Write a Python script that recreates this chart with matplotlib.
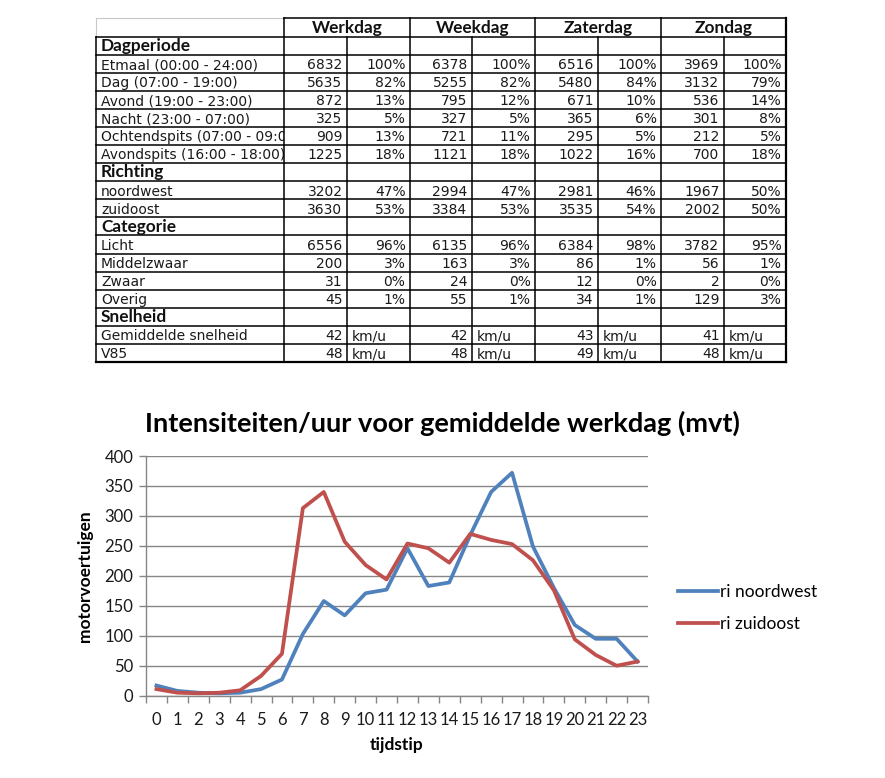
import numpy as np
import matplotlib.pyplot as plt
from matplotlib.patches import Rectangle

plt.rcParams['font.family'] = 'Lato'

# ---- tabel: telling per dagtype ----
dagen = ['Werkdag', 'Weekdag', 'Zaterdag', 'Zondag']

dagperiode = ['Etmaal (00:00 - 24:00)', 'Dag (07:00 - 19:00)', 'Avond (19:00 - 23:00)',
              'Nacht (23:00 - 07:00)', 'Ochtendspits (07:00 - 09:00)', 'Avondspits (16:00 - 18:00)']
richting = ['noordwest', 'zuidoost']
categorie = ['Licht', 'Middelzwaar', 'Zwaar', 'Overig']
snelheid = ['Gemiddelde snelheid', 'V85']

werkdag_aantal = [6832, 5635, 872, 325, 909, 1225, 3202, 3630, 6556, 200, 31, 45]
werkdag_pct = [100, 82, 13, 5, 13, 18, 47, 53, 96, 3, 0, 1]
weekdag_aantal = [6378, 5255, 795, 327, 721, 1121, 2994, 3384, 6135, 163, 24, 55]
weekdag_pct = [100, 82, 12, 5, 11, 18, 47, 53, 96, 3, 0, 1]
zaterdag_aantal = [6516, 5480, 671, 365, 295, 1022, 2981, 3535, 6384, 86, 12, 34]
zaterdag_pct = [100, 84, 10, 6, 5, 16, 46, 54, 98, 1, 0, 1]
zondag_aantal = [3969, 3132, 536, 301, 212, 700, 1967, 2002, 3782, 56, 2, 129]
zondag_pct = [100, 79, 14, 8, 5, 18, 50, 50, 95, 1, 0, 3]

gem_snelheid = [42, 42, 43, 41]
v85 = [48, 48, 49, 48]

# ---- grafiek: intensiteit per uur (werkdag) ----
uren = list(range(24))
noordwest = [17, 8, 5, 4, 5, 11, 27, 103, 158, 134, 171, 177, 246, 183, 189, 268,
             340, 372, 249, 180, 118, 95, 95, 57]
zuidoost = [11, 5, 4, 5, 9, 33, 70, 313, 340, 257, 218, 194, 254, 246, 222, 270,
            260, 253, 226, 176, 94, 68, 50, 57]

W, H = 885, 778
fig = plt.figure(figsize=(W / 100, H / 100), dpi=100)

# table drawn in pixel coordinates
tab = fig.add_axes([0, 0, 1, 1])
tab.set_xlim(0, W)
tab.set_ylim(H, 0)
tab.axis('off')

col_x = [96, 284, 347, 410, 472, 535, 598, 661, 724, 786]
top = 18.3
head_h = 18.4
row_h = 18.07
body_font = dict(family='DejaVu Sans', size=10, color='#1a1a1a')
bold_font = dict(family='Lato', size=12.4, weight='bold', color='#111111')

aantallen = [werkdag_aantal, weekdag_aantal, zaterdag_aantal, zondag_aantal]
procenten = [werkdag_pct, weekdag_pct, zaterdag_pct, zondag_pct]

rows = []
k = 0
for kop, labels in [('Dagperiode', dagperiode), ('Richting', richting), ('Categorie', categorie)]:
    rows.append(('kop', kop, None))
    for lab in labels:
        rows.append(('data', lab, k))
        k += 1
rows.append(('kop', 'Snelheid', None))
rows.append(('speed', snelheid[0], gem_snelheid))
rows.append(('speed', snelheid[1], v85))

y0 = top + head_h
bottom = y0 + len(rows) * row_h

# grid lines
lw = 1.1
tab.plot([col_x[0], col_x[1]], [top, top], color='#c8c8c8', lw=0.8)
tab.plot([col_x[0], col_x[0]], [top, y0], color='#c8c8c8', lw=0.8)
tab.plot([col_x[1], col_x[-1]], [top, top], color='black', lw=lw)
for r in range(len(rows) + 1):
    yy = y0 + r * row_h
    tab.plot([col_x[0], col_x[-1]], [yy, yy], color='black',
             lw=1.6 if r == len(rows) else lw)
tab.plot([col_x[0], col_x[0]], [y0, bottom], color='black', lw=lw)
for i, x in enumerate(col_x[1:], start=1):
    y_start = top if i % 2 == 1 else y0
    tab.plot([x, x], [y_start, bottom], color='black',
             lw=1.6 if i == len(col_x) - 1 else lw)

# white strip hides label text running past the first column
tab.add_patch(Rectangle((col_x[1], y0), 30, bottom - y0, facecolor='white',
                        edgecolor='none', zorder=1))

# header
for d, dag in enumerate(dagen):
    xc = (col_x[1 + 2 * d] + col_x[3 + 2 * d]) / 2
    tab.text(xc, y0 - 4, dag, ha='center', va='baseline', **bold_font)

# rows
for r, (kind, lab, val) in enumerate(rows):
    yb = y0 + (r + 1) * row_h - 3.8
    if kind == 'kop':
        tab.text(col_x[0] + 5, yb, lab, ha='left', va='baseline', **bold_font)
        continue
    tab.text(col_x[0] + 5, yb, lab, ha='left', va='baseline', zorder=0.5, **body_font)
    for d in range(4):
        xa = col_x[2 + 2 * d]
        xb = col_x[3 + 2 * d]
        if kind == 'data':
            tab.text(xa - 4.5, yb, str(aantallen[d][val]), ha='right', va='baseline', **body_font)
            tab.text(xb - 4.5, yb, f'{procenten[d][val]}%', ha='right', va='baseline', **body_font)
        else:
            tab.text(xa - 4.5, yb, str(val[d]), ha='right', va='baseline', **body_font)
            tab.text(xa + 4.5, yb, 'km/u', ha='left', va='baseline', **body_font)

# ---- chart ----
grey = '#868686'
ax = fig.add_axes([146 / W, 1 - 695.7 / H, 502 / W, 239.7 / H])
ax.plot(uren, noordwest, color='#4F81BD', lw=2.7, label='ri noordwest')
ax.plot(uren, zuidoost, color='#C0504D', lw=2.7, label='ri zuidoost')

ax.set_xlim(-0.5, 23.5)
ax.set_ylim(0, 400)
ax.set_yticks(np.arange(0, 401, 50))
ax.set_xticks(uren)
ax.set_xticks(np.arange(-0.5, 24, 1), minor=True)
ax.tick_params(axis='x', which='major', length=0, pad=12, labelsize=12, labelcolor='#1a1a1a')
ax.tick_params(axis='x', which='minor', length=5, width=1, color=grey)
ax.tick_params(axis='y', length=5, width=1, color=grey, pad=4, labelsize=12, labelcolor='#1a1a1a')
ax.grid(axis='y', color=grey, lw=1)
ax.set_axisbelow(True)
for s in ['top', 'right']:
    ax.spines[s].set_visible(False)
for s in ['left', 'bottom']:
    ax.spines[s].set_color(grey)
    ax.spines[s].set_linewidth(1)

ax.set_xlabel('tijdstip', fontsize=12.5, fontweight='bold')
ax.xaxis.set_label_coords(0.5, -0.172)
ax.set_ylabel('motorvoertuigen', fontsize=12.5, fontweight='bold')
ax.yaxis.set_label_coords(-0.106, 0.5)

fig.text(0.5, 1 - 432 / H, 'Intensiteiten/uur voor gemiddelde werkdag (mvt)',
         ha='center', va='baseline', fontsize=19.5, fontweight='bold')

ax.legend(loc='center left', bbox_to_anchor=(1.06, 0.366), frameon=False,
          fontsize=12.5, handlelength=2.3, handletextpad=0.1, labelspacing=0.95,
          borderpad=0, borderaxespad=0)

fig.savefig('out.png', dpi=100)
